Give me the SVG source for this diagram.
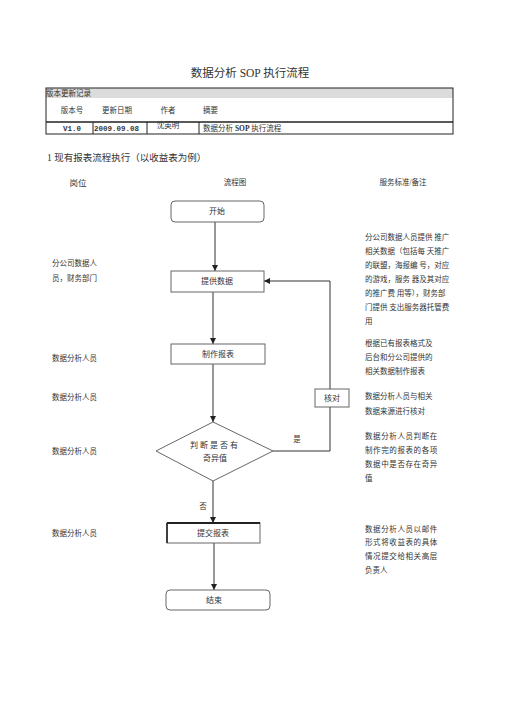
<svg xmlns="http://www.w3.org/2000/svg" width="505" height="714" viewBox="0 0 505 714">
<style>
text{font-family:"Liberation Serif","Noto Sans CJK SC",serif;fill:#333}
.s{font-size:7.5px}
.b{font-size:8px;text-anchor:middle}
.box{fill:#fff;stroke:#666;stroke-width:1}
.ln{fill:none;stroke:#333;stroke-width:1}
.tb{fill:none;stroke:#222;stroke-width:1}
.m{font-family:"Liberation Mono","Noto Sans CJK SC",monospace;font-size:7.5px;font-weight:bold}
</style>
<defs>
<marker id="ah" viewBox="0 0 10 10" refX="10" refY="5" markerWidth="6" markerHeight="6" orient="auto" markerUnits="userSpaceOnUse"><path d="M0,0L10,5L0,10z" fill="#222"/></marker>
</defs>
<rect width="505" height="714" fill="#fff"/>
<text x="250" y="77" font-size="11.5" text-anchor="middle">数据分析 SOP 执行流程</text>
<g id="table">
<rect x="46" y="88" width="407" height="10" fill="#dcdcdc"/>
<rect x="46" y="88" width="407" height="46" class="tb"/>
<line x1="46" y1="122" x2="453" y2="122" stroke="#222" stroke-width="1.4"/>
<line x1="93" y1="122" x2="93" y2="134" class="tb"/>
<line x1="147" y1="122" x2="147" y2="134" class="tb"/>
<line x1="199" y1="122" x2="199" y2="134" class="tb"/>
<text x="46" y="96" class="s">版本更新记录</text>
<text x="72" y="113" class="s" text-anchor="middle">版本号</text>
<text x="117" y="113" class="s" text-anchor="middle">更新日期</text>
<text x="168" y="113" class="s" text-anchor="middle">作者</text>
<text x="203" y="113" class="s">摘要</text>
<text x="72" y="131" class="m" text-anchor="middle">V1.0</text>
<text x="94" y="131" class="m">2009.09.08</text>
<text x="168" y="128" class="s" text-anchor="middle">沈英明</text>
<text x="203" y="131" class="s">数据分析 <tspan font-weight="bold">SOP</tspan> 执行流程</text>
</g>
<text x="47" y="161" font-size="9.5">1 现有报表流程执行（以收益表为例）</text>
<text x="78" y="186" font-size="8.5" text-anchor="middle">岗位</text>
<text x="235" y="185" class="s" text-anchor="middle">流程图</text>
<text x="403" y="185" class="s" text-anchor="middle">服务标准/备注</text>
<g id="roles" class="s">
<text x="52" y="266">分公司数据人</text>
<text x="52" y="281">员，财务部门</text>
<text x="52" y="361">数据分析人员</text>
<text x="52" y="400">数据分析人员</text>
<text x="52" y="454">数据分析人员</text>
<text x="52" y="536">数据分析人员</text>
</g>
<g id="notes" class="s">
<text x="365" y="240">分公司数据人员提供 推广</text>
<text x="365" y="254">相关数据（包括每 天推广</text>
<text x="365" y="268">的联盟，海报编 号，对应</text>
<text x="365" y="282">的游戏，服务 器及其对应</text>
<text x="365" y="296">的推广费 用等），财务部</text>
<text x="365" y="310">门提供 支出服务器托管费</text>
<text x="365" y="324">用</text>
<text x="365" y="346">根据已有报表格式及</text>
<text x="365" y="360">后台和分公司提供的</text>
<text x="365" y="374">相关数据制作报表</text>
<text x="365" y="399">数据分析人员与相关</text>
<text x="365" y="414">数据来源进行核对</text>
<text x="365" y="439" letter-spacing="0.6">数据分析人员判断在</text>
<text x="365" y="453" letter-spacing="0.6">制作完的报表的各项</text>
<text x="365" y="467" letter-spacing="0.6">数据中是否存在奇异</text>
<text x="365" y="481">值</text>
<text x="365" y="532" letter-spacing="0.6">数据分析人员以邮件</text>
<text x="365" y="545" letter-spacing="0.6">形式将收益表的具体</text>
<text x="365" y="559" letter-spacing="0.6">情况提交给相关高层</text>
<text x="365" y="573">负责人</text>
</g>
<g id="connectors">
<line x1="215" y1="222" x2="215" y2="271" class="ln" marker-end="url(#ah)"/>
<line x1="213" y1="292" x2="213" y2="344" class="ln" marker-end="url(#ah)"/>
<line x1="213" y1="364" x2="213" y2="422" class="ln" marker-end="url(#ah)"/>
<line x1="213" y1="481" x2="213" y2="523" class="ln" marker-end="url(#ah)"/>
<line x1="214" y1="543" x2="214" y2="590" class="ln" marker-end="url(#ah)"/>
<polyline points="273,451 330,451 330,407" class="ln"/>
<polyline points="330,389 330,281 264,281" class="ln" marker-end="url(#ah)"/>
<text x="297" y="442" class="s" text-anchor="middle">是</text>
<text x="203" y="509" class="s" text-anchor="middle">否</text>
</g>
<g id="start"><rect x="171" y="201" width="93" height="21" rx="4" class="box"/><text x="217" y="214" class="b">开始</text></g>
<g id="provide"><rect x="171" y="271" width="93" height="21" class="box"/><text x="217" y="284" class="b">提供数据</text></g>
<g id="make"><rect x="171" y="344" width="94" height="20" class="box"/><text x="218" y="357" class="b">制作报表</text></g>
<g id="check"><rect x="315" y="389" width="34" height="18" class="box"/><text x="332" y="401" class="b">核对</text></g>
<g id="decide"><polygon points="156,451 213,422 273,451 213,481" class="box"/><text x="215" y="448" class="b" letter-spacing="2">判断是否有</text><text x="215" y="461" class="b">奇异值</text></g>
<g id="submit"><rect x="167" y="523" width="93" height="20" class="box"/><line x1="167" y1="523" x2="260" y2="523" stroke="#222" stroke-width="2"/><line x1="167" y1="523" x2="167" y2="543" stroke="#222" stroke-width="1.6"/><text x="213" y="536" class="b">提交报表</text></g>
<g id="end"><rect x="166" y="590" width="104" height="20" rx="4" class="box"/><text x="214" y="603" class="b">结束</text></g>
</svg>
